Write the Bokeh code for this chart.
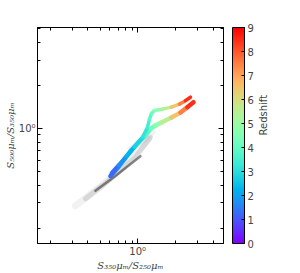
import numpy as np
from bokeh.plotting import figure
from bokeh.models import (FixedTicker, LogAxis, LinearAxis, ColorBar, LinearColorMapper,
                          CustomJSTickFormatter, Range1d, ColumnDataSource)
from bokeh.embed import file_html
from bokeh.resources import INLINE

# ---- data ----
# Track A (S-shaped, upper red end)
a_z = [1.0, 1.5, 2.0, 2.5, 3.0, 3.3, 3.6, 4.0, 4.3, 5.0, 6.0, 7.0, 8.0, 9.0]
a_x = [0.616, 0.701, 0.812, 0.941, 1.090, 1.196, 1.240, 1.287, 1.360, 1.576, 1.861, 2.156, 2.408, 2.640]
a_y = [0.487, 0.553, 0.639, 0.738, 0.866, 1.016, 1.155, 1.271, 1.334, 1.366, 1.410, 1.480, 1.565, 1.655]

# Track B (lower red end)
b_z = [1.0, 1.5, 2.0, 2.5, 3.0, 3.5, 4.0, 4.5, 5.0, 6.0, 7.0, 8.0, 9.0]
b_x = [0.605, 0.688, 0.783, 0.890, 1.013, 1.152, 1.264, 1.386, 1.548, 1.861, 2.196, 2.498, 2.790]
b_y = [0.464, 0.527, 0.609, 0.703, 0.799, 0.894, 0.992, 1.049, 1.101, 1.192, 1.291, 1.410, 1.528]

# grey background population (band of sources)
g1_x = [0.317, 0.503, 0.797, 1.218]
g1_y = [0.287, 0.389, 0.562, 0.839]
g2_x = [0.382, 0.605, 0.958, 1.264]
g2_y = [0.321, 0.442, 0.629, 0.866]
g3_x = [0.459, 0.663, 1.051]
g3_y = [0.365, 0.464, 0.639]
g4_x = [0.874, 1.152, 1.311]
g4_y = [0.715, 0.839, 0.938]

x_major = [1]
x_minor = [0.2, 0.3, 0.4, 0.5, 0.6, 0.7, 0.8, 0.9, 2, 3, 4]
y_major = [1]
y_minor = [0.2, 0.3, 0.4, 0.5, 0.6, 0.7, 0.8, 0.9, 2, 3, 4, 5]
cb_ticks = [0, 1, 2, 3, 4, 5, 6, 7, 8, 9]


def rainbow(n=256):
    out = []
    for i in range(n):
        t = i / (n - 1)
        r = min(1.0, abs(2 * t - 0.5))
        g = max(0.0, np.sin(np.pi * t))
        b = max(0.0, np.cos(np.pi * t / 2))
        out.append("#%02x%02x%02x" % (int(round(r * 255)), int(round(g * 255)), int(round(b * 255))))
    return out


mapper = LinearColorMapper(palette=rainbow(), low=0, high=9)

p = figure(width=300, height=273, x_axis_type="log", y_axis_type="log",
           x_range=Range1d(0.158, 4.85), y_range=Range1d(0.156, 5.1),
           output_backend="svg", toolbar_location=None,
           min_border_left=37, min_border_top=27, min_border_bottom=28, min_border_right=77)
p.grid.visible = False
p.outline_line_color = "black"
p.outline_line_width = 1
p.extra_y_ranges = {"z": Range1d(0, 9)}

fmt = CustomJSTickFormatter(code="return Math.abs(tick - 1) < 1e-9 ? '10\u2070' : '';")
blank = CustomJSTickFormatter(code="return '';")
spacer = CustomJSTickFormatter(code="return ' ';")


def style_axis(ax):
    ax.major_tick_in = 5
    ax.major_tick_out = 0
    ax.minor_tick_in = 3
    ax.minor_tick_out = 0
    ax.axis_line_color = "black"
    ax.major_tick_line_color = "black"
    ax.minor_tick_line_color = "black"
    ax.major_label_text_font = "DejaVu Sans"
    ax.major_label_text_font_size = "10px"
    ax.major_label_standoff = 2


p.xaxis.ticker = FixedTicker(ticks=x_major, minor_ticks=x_minor)
p.yaxis.ticker = FixedTicker(ticks=y_major, minor_ticks=y_minor)
p.xaxis.formatter = fmt
p.yaxis.formatter = fmt
style_axis(p.xaxis[0])
style_axis(p.yaxis[0])
p.xaxis.axis_label = "S\u2083\u2085\u2080\u03bc\u2098/S\u2082\u2085\u2080\u03bc\u2098"
p.yaxis.axis_label = "S\u2085\u2080\u2080\u03bc\u2098/S\u2083\u2085\u2080\u03bc\u2098"
for ax in (p.xaxis[0], p.yaxis[0]):
    ax.axis_label_text_font = "DejaVu Serif"
    ax.axis_label_text_font_style = "italic"
    ax.axis_label_text_font_size = "10px"
    ax.axis_label_standoff = 0

top_ax = LogAxis(ticker=FixedTicker(ticks=x_major, minor_ticks=x_minor), formatter=blank)
style_axis(top_ax)
top_ax.major_label_standoff = 0
p.add_layout(top_ax, "above")
right_ax = LogAxis(ticker=FixedTicker(ticks=y_major, minor_ticks=y_minor), formatter=spacer)
style_axis(right_ax)
right_ax.major_label_standoff = 3
p.add_layout(right_ax, "right")

# grey population
for gx, gy, col, w, a in [(g1_x, g1_y, "#808080", 7, 0.10),
                          (g2_x, g2_y, "#606060", 5, 0.18),
                          (g4_x, g4_y, "#909090", 6, 0.12),
                          (g3_x, g3_y, "#000000", 2.5, 0.45)]:
    p.line(gx, gy, line_color=col, line_width=w, line_alpha=a, line_cap="round", line_join="round")


def track(xs, ys, zs, width):
    src = ColumnDataSource(dict(x0=xs[:-1], y0=ys[:-1], x1=xs[1:], y1=ys[1:],
                                zm=[(zs[i] + zs[i + 1]) / 2 for i in range(len(zs) - 1)]))
    p.segment("x0", "y0", "x1", "y1", source=src, line_width=width, line_cap="round",
              line_color={"field": "zm", "transform": mapper})


track(b_x, b_y, b_z, 4.5)
track(a_x, a_y, a_z, 3.5)

cb = ColorBar(color_mapper=mapper, ticker=FixedTicker(ticks=cb_ticks), width=12,
              padding=0, margin=4, label_standoff=3,
              major_label_text_font="DejaVu Sans", major_label_text_font_size="10px",
              major_tick_in=3, major_tick_out=0, major_tick_line_color="black",
              bar_line_color="black", border_line_color=None, background_fill_alpha=0)
p.add_layout(cb, "right")

z_ax = LinearAxis(y_range_name="z", ticker=FixedTicker(ticks=[]), formatter=blank,
                  axis_label="Redshift", axis_label_text_font="DejaVu Sans",
                  axis_label_text_font_size="10px", axis_label_text_font_style="normal",
                  axis_line_color=None, major_tick_line_color=None, minor_tick_line_color=None,
                  major_label_standoff=0, axis_label_standoff=7)
if "axis_label_orientation" in LinearAxis.properties():
    z_ax.axis_label_orientation = np.pi / 2
p.add_layout(z_ax, "right")

open("out.html", "w").write(file_html(p, INLINE))
